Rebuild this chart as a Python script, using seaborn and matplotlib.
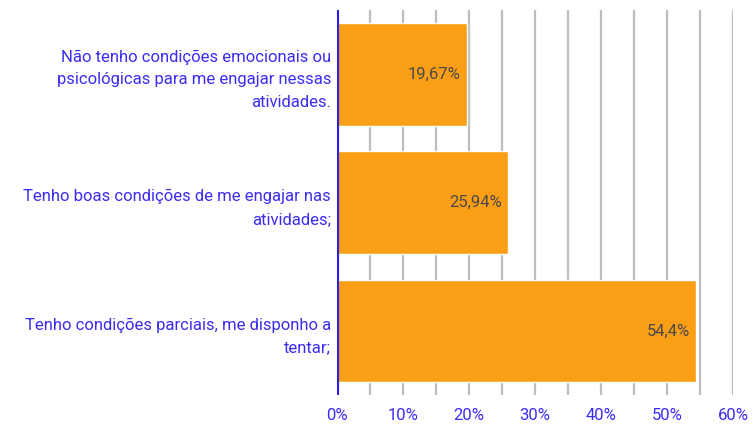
import numpy as np
import pandas as pd
import matplotlib
matplotlib.use("Agg")
import matplotlib.pyplot as plt
import seaborn as sns

# answers and percentages
respostas = [
    "Não tenho condições emocionais ou\npsicológicas para me engajar nessas\natividades.",
    "Tenho boas condições de me engajar nas\natividades;",
    "Tenho condições parciais, me disponho a\ntentar;",
]
percentuais = [19.67, 25.94, 54.4]
rotulos = ["19,67%", "25,94%", "54,4%"]
ticks_x = [0, 10, 20, 30, 40, 50, 60]

df = pd.DataFrame({"resposta": respostas, "pct": percentuais})

sns.set_style("white")
plt.rcParams["font.family"] = ["Roboto", "DejaVu Sans"]

fig = plt.figure(figsize=(7.55, 4.24), dpi=100)
ax = fig.add_axes([0.446, 0.068, 0.525, 0.908])

ax.set_axisbelow(True)
for v in np.arange(5, 61, 5):
    ax.axvline(v, color="#bdbdbd", lw=1.6, zorder=0)

sns.barplot(data=df, x="pct", y="resposta", orient="h", color="#fa9e15",
            saturation=1, width=0.8, ax=ax, zorder=2)

for i, (v, t) in enumerate(zip(percentuais, rotulos)):
    ax.text(v - 0.9, i, t, ha="right", va="center", fontsize=12,
            color="#4a4a4a", zorder=3)

ax.axvline(0, color="#2b1cf5", lw=2.2, zorder=4)

ax.set_xlim(0, 60)
ax.set_ylim(2.5, -0.5)
ax.set_xticks(ticks_x)
ax.set_xticklabels([f"{t}%" for t in ticks_x])
ax.tick_params(axis="x", colors="#3b2cf2", labelsize=12, length=0, pad=9)
ax.tick_params(axis="y", colors="#3b2cf2", labelsize=12, length=0, pad=4)
for lab in ax.get_yticklabels():
    lab.set_linespacing(1.65)
ax.set_xlabel("")
ax.set_ylabel("")
for s in ax.spines.values():
    s.set_visible(False)

fig.savefig("out.png", dpi=100, facecolor="white")
